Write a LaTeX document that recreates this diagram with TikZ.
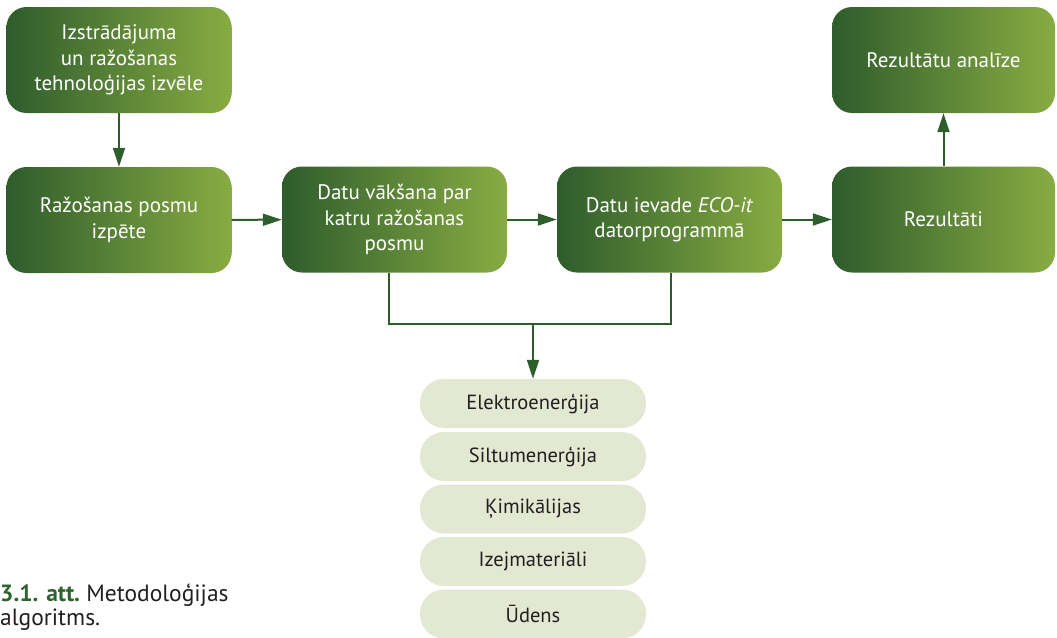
\documentclass[tikz,border=0pt]{standalone}
\usepackage{fontspec}
\setmainfont{PT Sans}
\usetikzlibrary{arrows.meta}
\definecolor{gdark}{RGB}{46,92,44}
\definecolor{glight}{RGB}{136,172,66}
\definecolor{lineg}{RGB}{45,94,44}
\definecolor{pillbg}{RGB}{227,232,210}
\definecolor{txtdark}{RGB}{35,31,32}
\definecolor{capg}{RGB}{45,100,45}
\begin{document}
\begin{tikzpicture}[x=1pt,y=-1pt,
  gbox/.style={rectangle, rounded corners=20pt, left color=gdark, right color=glight,
    draw=none, minimum width=225pt, minimum height=106pt, text=white, align=center,
    inner sep=0pt, font=\fontsize{21}{25.5}\selectfont},
  pill/.style={rectangle, rounded corners=24pt, fill=pillbg, draw=none,
    minimum width=226pt, minimum height=49pt, text=txtdark, inner sep=0pt,
    font=\fontsize{20.5}{24}\selectfont},
  conn/.style={draw=lineg, line width=2pt},
  arr/.style={conn, -{Triangle[length=19pt,width=12pt]}}
]
\useasboundingbox (0,0) rectangle (1057,637);

\node[gbox] (b1) at (119,60) {Izstrādājuma\\un ražošanas\\tehnoloģijas izvēle};
\node[gbox] (b2) at (119,220) {Ražošanas posmu\\izpēte};
\node[gbox] (b3) at (394.5,219.5) {Datu vākšana par\\katru ražošanas\\posmu};
\node[gbox] (b4) at (669.5,219.5) {Datu ievade \textit{ECO-it}\\datorprogrammā};
\node[gbox, minimum width=223pt] (b5) at (943.5,219.5) {Rezultāti};
\node[gbox, minimum width=223pt] (b6) at (943.5,60) {Rezultātu analīze};

\node[pill] (p1) at (533,403.5) {Elektroenerģija};
\node[pill] (p2) at (533,456.5) {Siltumenerģija};
\node[pill] (p3) at (533,509) {Ķimikālijas};
\node[pill] (p4) at (533,561.5) {Izejmateriāli};
\node[pill] (p5) at (533,614) {Ūdens};

\draw[arr] (b1) -- (b2);
\draw[arr] (b2) -- (b3);
\draw[arr] (b3) -- (b4);
\draw[arr] (b4) -- (b5);
\draw[arr] (b5) -- (b6);

\coordinate (jl) at (389,324);
\coordinate (jr) at (671,324);
\coordinate (jm) at (533,324);
\draw[conn] (b3.south -| jl) -- (jl) -- (jr) -- (b4.south -| jr);
\draw[arr] (jm) -- (p1.north);

\node[anchor=base west, align=left, inner sep=0pt, text=txtdark,
  font=\fontsize{23.5}{24}\selectfont] (cap) at (0,625)
  {\textcolor{capg}{\textbf{3.1. att.}}~Metodoloģijas\\algoritms.};
\end{tikzpicture}
\end{document}
